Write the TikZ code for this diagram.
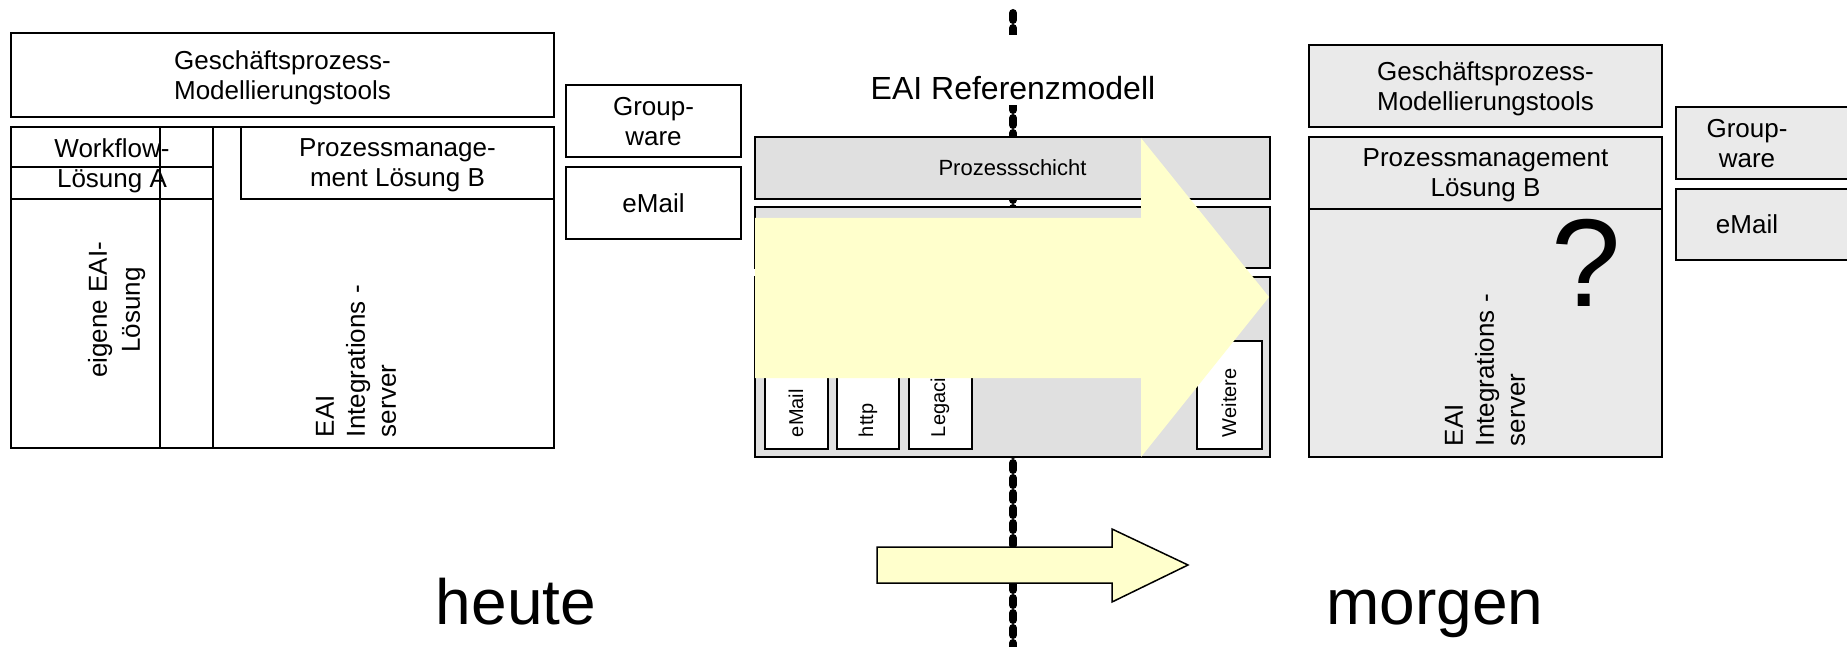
\documentclass[tikz,border=0pt]{standalone}
\usepackage{fontspec}
\setmainfont{Liberation Sans}
\definecolor{ayellow}{HTML}{FFFFCC}
\definecolor{lgray}{HTML}{E0E0E0}
\definecolor{rgray}{HTML}{EAEAEA}
\begin{document}
\begin{tikzpicture}[x=1pt,y=-1pt,
  box/.style={draw, line width=1.8pt, inner sep=0pt, outer sep=0pt, anchor=north west, fill=white, align=center, text depth=0pt, font=\fontsize{26}{30}\selectfont},
  frame/.style={draw, line width=1.8pt, inner sep=0pt, outer sep=0pt, anchor=north west},
  rlbl/.style={rotate=90, inner sep=0pt, outer sep=0pt, text depth=0pt, font=\fontsize{26}{31}\selectfont},
  slbl/.style={rotate=90, anchor=west, inner sep=0pt, outer sep=0pt, font=\fontsize{20}{24}\selectfont},
  tlbl/.style={inner sep=0pt, outer sep=0pt, align=center, text depth=0pt, font=\fontsize{26}{30}\selectfont},
  dotline/.style={line width=8pt, dash pattern=on 7pt off 8pt, line cap=round},
  bigtext/.style={font=\fontsize{64}{70}\selectfont, anchor=base, inner sep=0pt}
]
\useasboundingbox (0,0) rectangle (1847,647);

% ---------- left: heute ----------
\node[box, minimum width=543pt, minimum height=84pt] (gpl) at (11,33) {Geschäftsprozess-\\Modellierungstools};
\node[frame, fill=white, minimum width=543pt, minimum height=321pt] (lbig) at (11,127) {};
\node[box, minimum width=202pt, minimum height=72pt] (wfl) at (11,127) {Workflow-\\Lösung A};
\node[frame, minimum width=202pt, minimum height=32pt] (lsa) at (11,167) {};
\node[frame, minimum width=53pt, minimum height=321pt] (strip) at (160,127) {};
\node[box, minimum width=313pt, minimum height=72pt] (pml) at (241,127) {Prozessmanage-\\ment Lösung B};
\node[rlbl, align=center, font=\fontsize{26}{33}\selectfont] (eigen) at (114,310) {eigene EAI-\\Lösung};
\node[rlbl, align=left, anchor=north west] (eail) at (316,437) {EAI\\Integrations -\\server};
\node[box, minimum width=175pt, minimum height=72pt] (gwl) at (566,85) {Group-\\ware};
\node[box, minimum width=175pt, minimum height=72pt] (eml) at (566,167) {eMail};

% ---------- middle: reference model ----------
\coordinate (dtop) at (1013,13);
\coordinate (dbot) at (1013,665);
\draw[dotline] (dtop) -- (dbot);
\fill[white] (860,35) rectangle (1170,105);
\node[font=\fontsize{32}{36}\selectfont, anchor=base, inner sep=0pt] (title) at (1013,100) {EAI Referenzmodell};
\node[box, fill=lgray, minimum width=515pt, minimum height=62pt, font=\fontsize{22}{26}\selectfont] (ps) at (755,137) {Prozessschicht};
\node[frame, fill=lgray, minimum width=515pt, minimum height=61pt] (l2) at (755,207) {};
\node[frame, fill=lgray, minimum width=515pt, minimum height=180pt] (l3) at (755,277) {};
\node[frame, fill=white, minimum width=63pt, minimum height=108pt] (s1) at (765,341) {};
\node[frame, fill=white, minimum width=62pt, minimum height=108pt] (s2) at (837,341) {};
\node[frame, fill=white, minimum width=63pt, minimum height=108pt] (s3) at (909,341) {};
\node[frame, fill=white, minimum width=65pt, minimum height=108pt] (s4) at (1197,341) {};
\node[slbl] (t1) at (796,437) {eMail};
\node[slbl] (t2) at (868,437) {http};
\node[slbl] (t3) at (940,437) {Legaci};
\node[slbl] (t4) at (1229,437) {Weitere};
\fill[ayellow] (755,218) -- (1141,218) -- (1141,138) -- (1269,297) -- (1141,457) -- (1141,378) -- (755,378) -- cycle;
\draw[line width=1.5pt, fill=ayellow] (877,547) -- (1112,547) -- (1112,529) -- (1188,565) -- (1112,602) -- (1112,583) -- (877,583) -- cycle;

\node[bigtext] (heute) at (516,624) {heute};
\node[bigtext] (morgen) at (1435,624) {morgen};

% ---------- right: morgen ----------
\node[box, fill=rgray, minimum width=353pt, minimum height=82pt] (gpr) at (1309,45) {Geschäftsprozess-\\Modellierungstools};
\node[frame, fill=rgray, minimum width=353pt, minimum height=248pt] (eair) at (1309,209) {};
\node[box, fill=rgray, minimum width=353pt, minimum height=72pt] (pmr) at (1309,137) {Prozessmanagement\\Lösung B};
\node[font=\fontsize{125}{130}\selectfont, inner sep=0pt] (q) at (1586,263) {?};
\node[rlbl, align=left, anchor=north west] (eairt) at (1445,446) {EAI\\Integrations -\\server};
\node[frame, fill=rgray, minimum width=180pt, minimum height=72pt] (gwr) at (1676,107) {};
\node[frame, fill=rgray, minimum width=180pt, minimum height=71pt] (emr) at (1676,189) {};
\node[tlbl] (gwrt) at (1747,143) {Group-\\ware};
\node[tlbl] (emrt) at (1747,224.5) {eMail};
\end{tikzpicture}
\end{document}
